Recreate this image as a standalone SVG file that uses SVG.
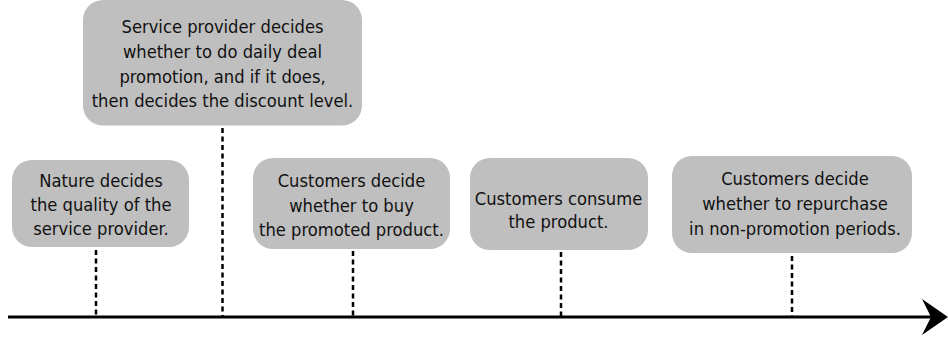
<svg xmlns="http://www.w3.org/2000/svg" width="948" height="339" viewBox="0 0 948 339">
  <style>
    .box { fill: #bfbfbf; stroke: none; }
    .label { font-family: "DejaVu Sans Condensed", "DejaVu Sans", sans-serif; font-stretch: condensed; font-size: 18.2px; fill: #111; text-anchor: middle; }
    .tick { stroke: #000; stroke-width: 2.5; stroke-dasharray: 5 3.5; fill: none; }
    .axis { stroke: #000; stroke-width: 3; fill: none; }
  </style>

  <!-- timeline axis and dotted event ticks -->
  <g id="connectors">
    <line class="axis" x1="8" y1="317" x2="932" y2="317"/>
    <polygon points="948,317 922,299 931,317 922,335" fill="#000"/>
    <line class="tick" x1="96" y1="250" x2="96" y2="316"/>
    <line class="tick" x1="222.5" y1="128" x2="222.5" y2="316"/>
    <line class="tick" x1="353" y1="251" x2="353" y2="316"/>
    <line class="tick" x1="561" y1="252" x2="561" y2="316"/>
    <line class="tick" x1="792" y1="256" x2="792" y2="316"/>
  </g>

  <g id="nature">
    <rect class="box" x="12" y="160" width="177" height="87" rx="20"/>
    <text class="label" x="101" y="187">Nature decides</text>
    <text class="label" x="101" y="211">the quality of the</text>
    <text class="label" x="101" y="235">service provider.</text>
  </g>

  <g id="provider">
    <rect class="box" x="83" y="0" width="279" height="125.5" rx="20"/>
    <text class="label" x="222.5" y="33">Service provider decides</text>
    <text class="label" x="222.5" y="58">whether to do daily deal</text>
    <text class="label" x="222.5" y="83">promotion, and if it does,</text>
    <text class="label" x="222.5" y="107">then decides the discount level.</text>
  </g>

  <g id="buy">
    <rect class="box" x="253" y="158" width="197" height="91" rx="20"/>
    <text class="label" x="351.5" y="187">Customers decide</text>
    <text class="label" x="351.5" y="212">whether to buy</text>
    <text class="label" x="351.5" y="236">the promoted product.</text>
  </g>

  <g id="consume">
    <rect class="box" x="470" y="158" width="178" height="92" rx="20"/>
    <text class="label" x="558.5" y="205">Customers consume</text>
    <text class="label" x="558.5" y="228">the product.</text>
  </g>

  <g id="repurchase">
    <rect class="box" x="672" y="156" width="240" height="97" rx="20"/>
    <text class="label" x="795" y="185">Customers decide</text>
    <text class="label" x="795" y="210">whether to repurchase</text>
    <text class="label" x="795" y="235">in non-promotion periods.</text>
  </g>
</svg>
